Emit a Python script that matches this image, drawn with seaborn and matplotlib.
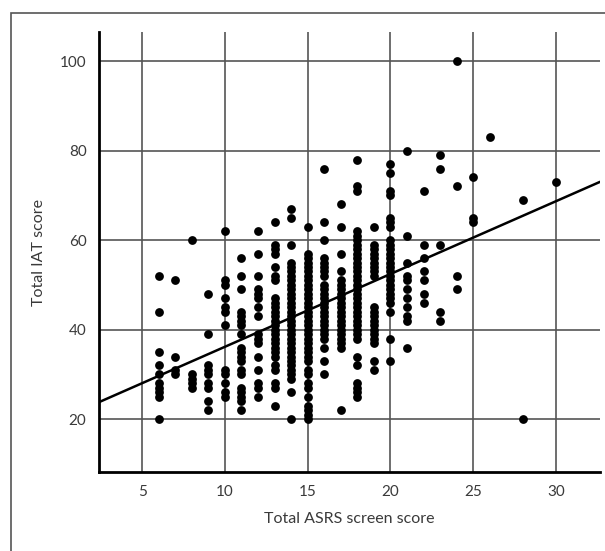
import pandas as pd
import numpy as np
import matplotlib
matplotlib.use("Agg")
from matplotlib import pyplot as plt
from matplotlib.patches import Rectangle
import seaborn as sns

# IAT scores, one list per ASRS screen score
iat_06 = [52, 44, 35, 32, 30, 28, 27, 26, 25, 20]
iat_07 = [51, 34, 31, 30]
iat_08 = [60, 30, 29, 28, 27]
iat_09 = [48, 39, 32, 31, 30, 28, 27, 24, 22]
iat_10 = [62, 51, 50, 47, 45, 44, 41, 31, 30, 28, 26, 25]
iat_11 = [56, 52, 49, 44, 43, 42, 41, 39, 36, 35, 34, 33, 31, 30, 27, 26, 25, 24, 22]
iat_12 = [62, 57, 52, 49, 48, 47, 45, 43, 39, 38, 37, 34, 31, 28, 27, 25]
iat_13 = [64, 59, 58, 57, 54, 52, 51, 47, 46, 45, 44, 43, 42, 41, 40, 39, 38, 37,
          36, 35, 34, 32, 31, 28, 27, 23]
iat_14 = [67, 65, 59, 55, 54, 53, 52, 51, 50, 49, 48, 47, 46, 45, 44, 43, 42, 41,
          40, 39, 38, 37, 36, 35, 34, 33, 32, 31, 30, 29, 26, 20]
iat_15 = [63, 57, 56, 55, 54, 53, 52, 51, 50, 49, 48, 47, 46, 45, 44, 43, 42, 41,
          40, 39, 38, 37, 36, 35, 34, 33, 31, 30, 28, 27, 25, 23, 22, 21, 20]
iat_16 = [76, 64, 60, 56, 55, 54, 53, 52, 50, 49, 48, 47, 46, 45, 44, 43, 42, 41,
          40, 39, 38, 36, 33, 30]
iat_17 = [68, 63, 57, 53, 51, 50, 49, 48, 47, 46, 45, 44, 43, 42, 41, 40, 39, 38,
          37, 36, 22]
iat_18 = [78, 72, 71, 62, 61, 60, 59, 58, 57, 56, 55, 54, 53, 52, 51, 50, 49, 48,
          47, 46, 45, 44, 43, 42, 41, 40, 39, 38, 34, 32, 28, 27, 26, 25]
iat_19 = [63, 59, 58, 57, 56, 55, 54, 53, 52, 45, 44, 43, 42, 41, 40, 39, 38, 37,
          33, 31]
iat_20 = [77, 75, 71, 70, 65, 64, 63, 60, 59, 58, 57, 56, 55, 54, 53, 52, 51, 50,
          49, 48, 47, 46, 44, 38, 33]
iat_21 = [80, 61, 55, 52, 51, 49, 47, 45, 43, 42, 36]
iat_22 = [71, 59, 56, 53, 51, 48, 46]
iat_23 = [79, 76, 59, 44, 42]
iat_24 = [100, 72, 52, 49]
iat_25 = [74, 65, 64]
iat_26 = [83]
iat_28 = [69, 20]
iat_30 = [73]

asrs_scores = [6, 7, 8, 9, 10, 11, 12, 13, 14, 15, 16, 17, 18, 19, 20,
               21, 22, 23, 24, 25, 26, 28, 30]
iat_columns = [iat_06, iat_07, iat_08, iat_09, iat_10, iat_11, iat_12, iat_13,
               iat_14, iat_15, iat_16, iat_17, iat_18, iat_19, iat_20, iat_21,
               iat_22, iat_23, iat_24, iat_25, iat_26, iat_28, iat_30]

# fitted line
fit_intercept = 19.9
fit_slope = 1.627

x_ticks = [5, 10, 15, 20, 25, 30]
y_ticks = [20, 40, 60, 80, 100]

rows = []
for score, values in zip(asrs_scores, iat_columns):
    for v in values:
        rows.append({"ASRS": score, "IAT": v})
df = pd.DataFrame(rows)

sns.set_style("white")
plt.rcParams["font.family"] = ["Lato", "DejaVu Sans"]

fig = plt.figure(figsize=(6.05, 5.51), dpi=100)
ax = fig.add_axes([99 / 605, 1 - 472 / 551, 501 / 605, 440 / 551])

sns.scatterplot(data=df, x="ASRS", y="IAT", color="black", s=40,
                linewidth=0, ax=ax, zorder=3)
ax.axline((0, fit_intercept), slope=fit_slope, color="black", lw=1.8, zorder=4)

ax.set_xlim(2.4, 32.65)
ax.set_ylim(8.2, 106.5)
ax.set_xticks(x_ticks)
ax.set_yticks(y_ticks)
ax.grid(True, color="#555555", lw=1.2)
ax.set_axisbelow(True)

for side in ["top", "right"]:
    ax.spines[side].set_visible(False)
for side in ["left", "bottom"]:
    ax.spines[side].set_color("black")
    ax.spines[side].set_linewidth(2)

ax.tick_params(axis="both", direction="out", length=3, width=1.2,
               color="black", labelsize=11, labelcolor="#3a3a3a", pad=6)
ax.set_xlabel("Total ASRS screen score", fontsize=11.5, color="#3a3a3a", labelpad=10)
ax.set_ylabel("Total IAT score", fontsize=11.5, color="#3a3a3a", labelpad=10)

fig.patches.append(Rectangle((11 / 605, -0.1), 1.2, 1.1 - 13 / 551,
                             transform=fig.transFigure, fill=False,
                             edgecolor="#555555", lw=1.2))

plt.savefig("out.png", dpi=100)
